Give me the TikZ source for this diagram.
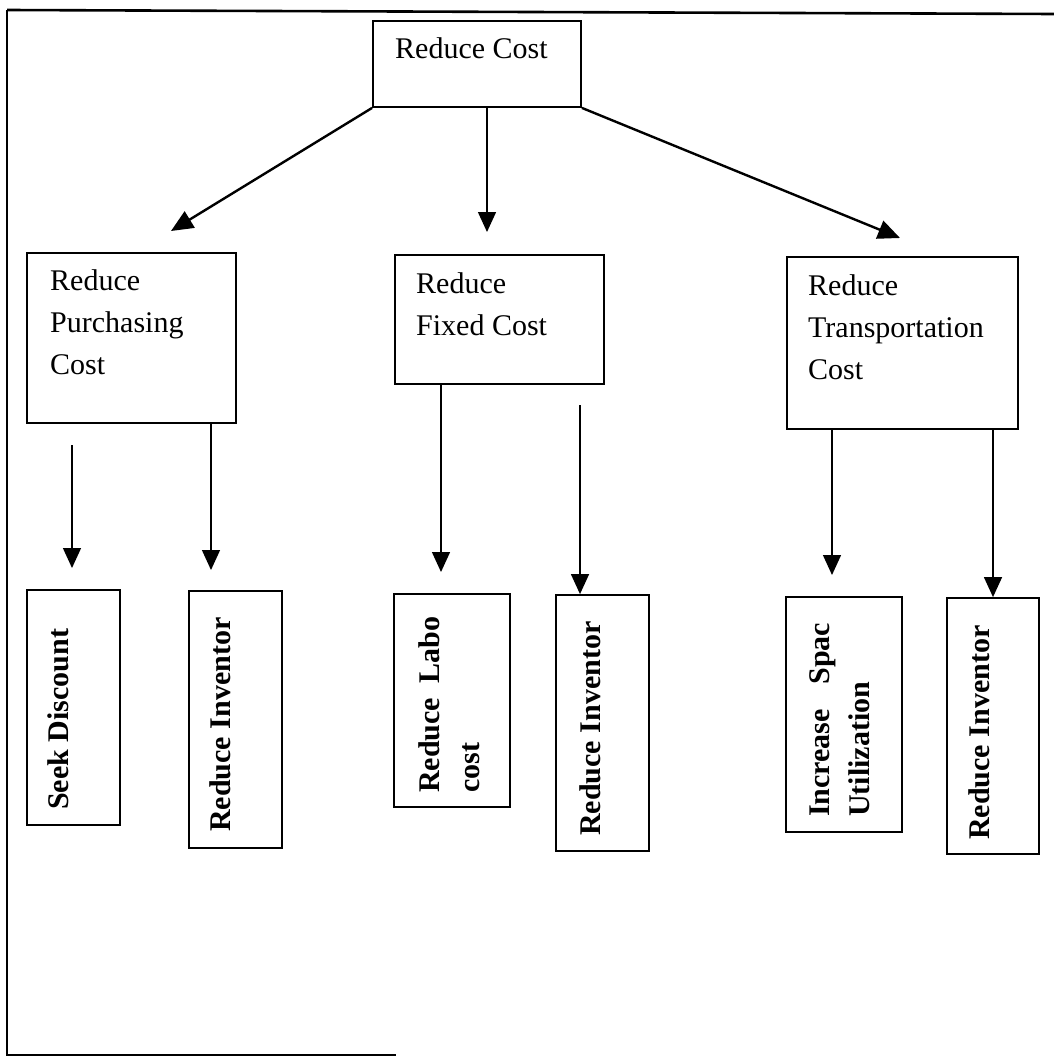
\documentclass[tikz,border=0pt]{standalone}
\usepackage{fontspec}
\setmainfont{Liberation Serif}
\usetikzlibrary{arrows.meta}
\tikzset{
  box/.style={draw, line width=1.8pt, inner sep=0pt, rectangle},
  htext/.style={anchor=north west, inner sep=0pt, align=left,
     font=\fontsize{30}{42}\selectfont},
  vtext/.style={anchor=north west, inner sep=0pt, rotate=90, align=left,
     font=\fontsize{30}{40}\selectfont\bfseries},
  arr/.style={line width=1.4pt, -{Triangle[length=20pt,width=18pt]}},
  darr/.style={line width=2.4pt, -{Triangle[length=22pt,width=19pt]}},
  frame/.style={line width=2pt}
}
\begin{document}
\begin{tikzpicture}[x=1pt,y=-1pt]
\useasboundingbox (0,0) rectangle (1054,1057);
% frame
\coordinate (f1) at (1054,14);
\coordinate (f2) at (7,10);
\coordinate (f3) at (7,1055);
\coordinate (f4) at (396,1055);
\draw[frame, line width=2.6pt] (f1) -- (f2);
\draw[frame] (f2) -- (f3) -- (f4);

% level 0
\node[box, minimum width=208pt, minimum height=86pt] (rc) at (477,64) {};
\node[htext] (rct) at (395,37) {Reduce Cost};

% level 1
\node[box, minimum width=209pt, minimum height=170pt] (pc) at (131.5,338) {};
\node[htext] (pct) at (50,269) {Reduce\\Purchasing\\Cost};
\node[box, minimum width=209pt, minimum height=129pt] (fc) at (499.5,319.5) {};
\node[htext] (fct) at (416,272) {Reduce\\Fixed Cost};
\node[box, minimum width=231pt, minimum height=172pt] (tc) at (902.5,343) {};
\node[htext] (tct) at (808,274) {Reduce\\Transportation\\Cost};

% level 2
\node[box, minimum width=93pt, minimum height=235pt] (sd) at (73.5,707.5) {};
\node[vtext] (sdt) at (47,810) {Seek Discount};
\node[box, minimum width=93pt, minimum height=257pt] (ri1) at (235.5,719.5) {};
\node[vtext] (ri1t) at (209,832) {Reduce Inventor};
\node[box, minimum width=116pt, minimum height=213pt] (rl) at (452,700.5) {};
\node[vtext, text width=176pt] (rlt) at (418,793) {Reduce\hfill Labo\\cost};
\node[box, minimum width=93pt, minimum height=256pt] (ri2) at (602.5,723) {};
\node[vtext] (ri2t) at (579,836) {Reduce Inventor};
\node[box, minimum width=116pt, minimum height=235pt] (isu) at (844,714.5) {};
\node[vtext, text width=194pt] (isut) at (809,817) {Increase\hfill Spac\\Utilization};
\node[box, minimum width=92pt, minimum height=256pt] (ri3) at (993,726) {};
\node[vtext] (ri3t) at (968,840) {Reduce Inventor};

% top arrows
\coordinate (e1) at (171,231);
\coordinate (e2) at (487,232);
\coordinate (e3) at (900,238);
\draw[darr] (rc.south west) -- (e1);
\draw[arr] (rc.south west -| e2) -- (e2);
\draw[darr] (rc.south east) -- (e3);

% lower arrows
\coordinate (s1) at (72,445);
\coordinate (t1) at (72,568);
\draw[arr] (s1) -- (t1);
\coordinate (t2) at (211,570);
\draw[arr] (pc.south west -| t2) -- (t2);
\coordinate (t3) at (441,572);
\draw[arr] (fc.south west -| t3) -- (t3);
\coordinate (s4) at (580,405);
\draw[arr] (s4) -- (ri2.north west -| s4);
\coordinate (t5) at (832,575);
\draw[arr] (tc.south west -| t5) -- (t5);
\draw[arr] (tc.south west -| ri3.north) -- (ri3.north);
\end{tikzpicture}
\end{document}
